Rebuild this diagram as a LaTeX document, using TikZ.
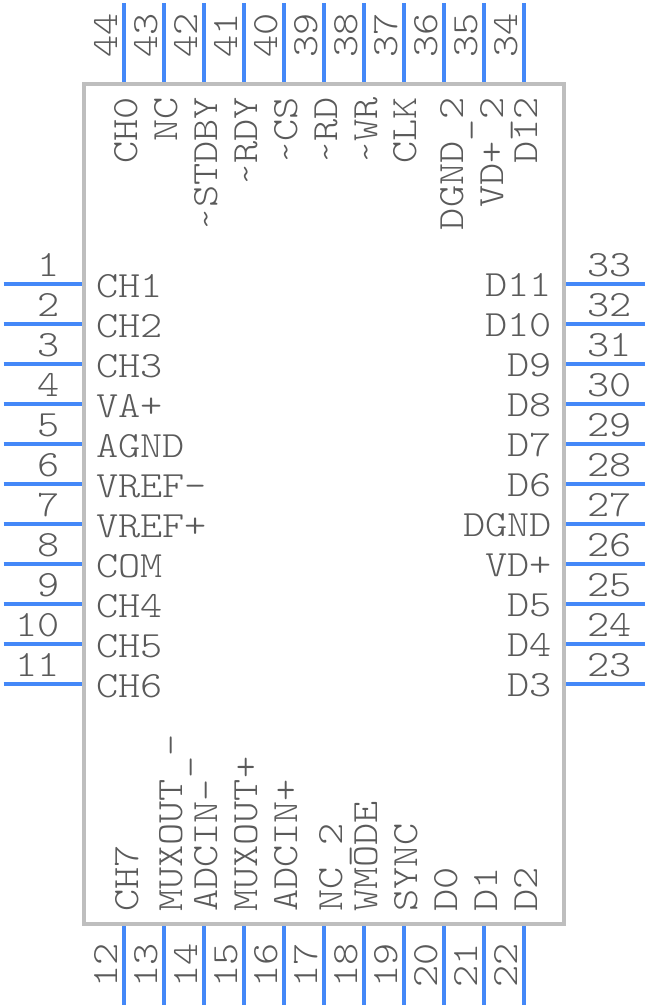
\documentclass[tikz,border=0pt]{standalone}
\usepackage{fontspec}
\setmainfont{Latin Modern Mono Light}[FakeStretch=1.14]
\definecolor{pinblue}{HTML}{4488F8}
\definecolor{bodygray}{HTML}{BEBEBE}
\definecolor{txtgray}{HTML}{5A5A5A}
\newcommand{\lowbar}{\raisebox{-3pt}{\_}}
\tikzset{
  pinline/.style={draw=pinblue,line width=3.6pt},
  chipbody/.style={draw=bodygray,line width=3.8pt,fill=white,rectangle,inner sep=0pt,outer sep=0pt,minimum width=480pt,minimum height=840pt,anchor=north west},
  lbl/.style={text=txtgray,inner sep=0pt,font=\fontsize{37}{37}\selectfont},
  leftlbl/.style={lbl,anchor=base west},
  rightlbl/.style={lbl,anchor=base east},
  uplbl/.style={lbl,rotate=90,anchor=base east},
  downlbl/.style={lbl,rotate=90,anchor=base west},
  numl/.style={lbl,anchor=base east},
  numr/.style={lbl,anchor=base east},
  numt/.style={lbl,rotate=90,anchor=base west},
  numb/.style={lbl,rotate=90,anchor=base west}
}
\begin{document}
\begin{tikzpicture}[x=1pt,y=-1pt]
\useasboundingbox (0,0) rectangle (648,1008);
\node[chipbody] (body) at (84,84) {};
% left pins
\foreach \n/\t [count=\i from 0] in {1/CH1,2/CH2,3/CH3,4/VA+,5/AGND,6/VREF-,7/VREF+,8/COM,9/CH4,10/CH5,11/CH6}{
  \coordinate (p\n a) at (3.5,284+40*\i);
  \coordinate (p\n b) at (82,284+40*\i);
  \draw[pinline] (p\n a) -- (p\n b);
  \node[numl] (n\n) at (60,276+40*\i) {\n};
  \node[leftlbl] (t\n) at (96,297+40*\i) {\t};
}
% right pins
\foreach \n/\t [count=\i from 0] in {33/D11,32/D10,31/D9,30/D8,29/D7,28/D6,27/DGND,26/VD+,25/D5,24/D4,23/D3}{
  \coordinate (p\n a) at (644.5,284+40*\i);
  \coordinate (p\n b) at (566,284+40*\i);
  \draw[pinline] (p\n a) -- (p\n b);
  \node[numr] (n\n) at (632,276+40*\i) {\n};
  \node[rightlbl] (t\n) at (552,296+40*\i) {\t};
}
% top pins
\foreach \n/\t/\bx [count=\i from 0] in {44/CH0/137.5,43/NC/177.5,42/{\string~STDBY}/217,41/{\string~RDY}/257,40/{\string~CS}/297,39/{\string~RD}/337,38/{\string~WR}/377,37/CLK/416.5,36/DGND\lowbar 2/463,35/VD+\lowbar 2/503,34/D12/537}{
  \coordinate (p\n a) at (124+40*\i,3.5);
  \coordinate (p\n b) at (124+40*\i,82);
  \draw[pinline] (p\n a) -- (p\n b);
  \node[numt] (n\n) at (117+40*\i,57.5) {\n};
  \node[uplbl] (t\n) at (\bx,97) {\t};
}
% bottom pins
\foreach \n/\t/\bx [count=\i from 0] in {12/CH7/138,13/MUXOUT\lowbar -/182,14/ADCIN-/217,15/MUXOUT+/257,16/ADCIN+/297,17/NC\lowbar 2/342,18/WMODE/377,19/SYNC/417,20/D0/457,21/D1/497,22/D2/537}{
  \coordinate (p\n a) at (124+40*\i,1004.5);
  \coordinate (p\n b) at (124+40*\i,926);
  \draw[pinline] (p\n a) -- (p\n b);
  \node[numb] (n\n) at (117+40*\i,987.5) {\n};
  \node[downlbl] (t\n) at (\bx,912) {\t};
}
\end{tikzpicture}
\end{document}
